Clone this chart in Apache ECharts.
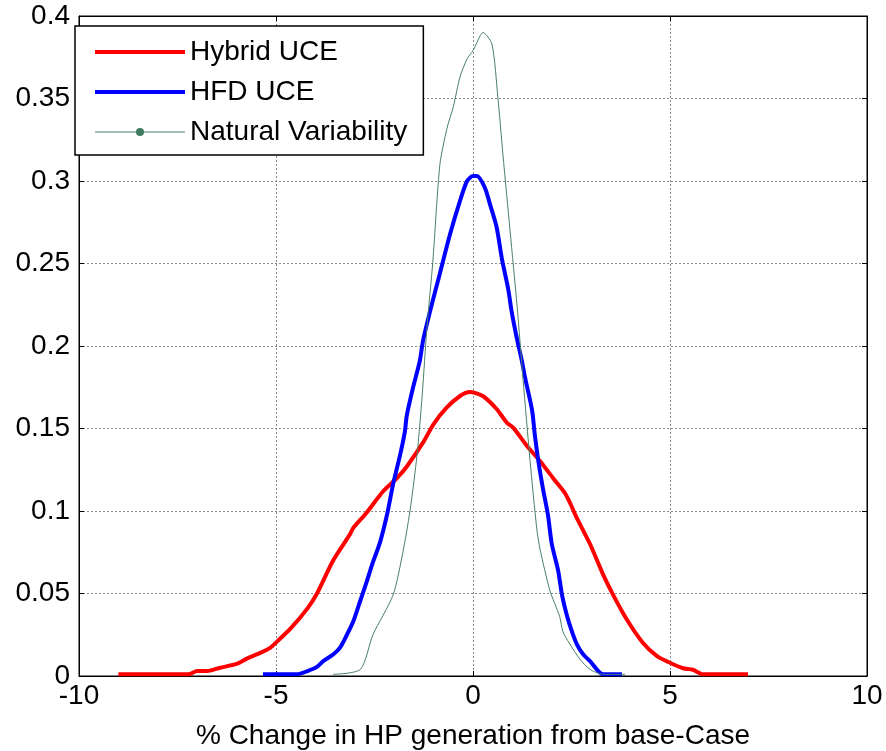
<!DOCTYPE html>
<html>
<head>
<meta charset="utf-8">
<script src="https://cdn.jsdelivr.net/npm/echarts@6/dist/echarts.min.js"></script>
<style>
html,body{margin:0;padding:0;background:#fff;}
#c{width:886px;height:751px;}
</style>
</head>
<body>
<div id="c"></div>
<script>
const xTicks = [-10, -5, 0, 5, 10];
const yTicks = [0, 0.05, 0.1, 0.15, 0.2, 0.25, 0.3, 0.35, 0.4];
const seriesNames = ['Hybrid UCE', 'HFD UCE', 'Natural Variability'];
const xTitle = '% Change in HP generation from base-Case';

const hybridX = [-9.0,-7.23,-7.0,-6.75,-6.42,-6.0,-5.74,-5.4,-5.15,-4.97,-4.64,-4.2,-3.96,-3.55,-3.12,-3.04,-2.7,-2.28,-1.93,-1.68,-1.27,-1.0,-0.67,-0.33,-0.08,0.25,0.6,0.86,1.02,1.37,1.7,2.03,2.33,2.46,2.63,2.97,3.3,3.55,3.9,4.31,4.67,5.0,5.33,5.58,5.84,6.98];
const hybridY = [0.001,0.001,0.003,0.003,0.005,0.0073,0.0105,0.014,0.017,0.021,0.0285,0.041,0.050,0.070,0.086,0.0897,0.099,0.112,0.120,0.127,0.1414,0.1527,0.1626,0.1697,0.1721,0.1697,0.1618,0.1535,0.1505,0.1394,0.1303,0.120,0.111,0.105,0.096,0.080,0.0616,0.0495,0.0344,0.0202,0.0121,0.008,0.0047,0.0038,0.001,0.001];

const hfdX = [-5.33,-4.47,-4.2,-3.96,-3.8,-3.55,-3.38,-3.2,-3.04,-2.87,-2.7,-2.54,-2.36,-2.18,-2.03,-1.85,-1.73,-1.68,-1.52,-1.35,-1.27,-1.09,-0.84,-0.58,-0.33,-0.15,0,0.1,0.3,0.43,0.6,0.74,0.89,0.98,1.11,1.24,1.32,1.5,1.57,1.66,1.78,1.9,2.0,2.16,2.26,2.38,2.51,2.64,2.8,2.97,3.3,3.78];
const hfdY = [0.001,0.001,0.003,0.0055,0.009,0.013,0.017,0.025,0.033,0.045,0.057,0.069,0.081,0.098,0.116,0.134,0.148,0.158,0.175,0.191,0.203,0.221,0.244,0.268,0.288,0.300,0.303,0.303,0.296,0.286,0.272,0.252,0.235,0.221,0.205,0.191,0.181,0.161,0.146,0.130,0.113,0.098,0.080,0.064,0.049,0.037,0.027,0.019,0.013,0.009,0.001,0.001];

const natX = [-3.55,-2.86,-2.54,-2.03,-1.78,-1.6,-1.42,-1.29,-1.17,-1.02,-0.84,-0.66,-0.5,-0.33,-0.15,0,0.18,0.25,0.48,0.63,0.76,0.94,1.12,1.27,1.45,1.62,1.7,1.95,2.2,2.28,2.44,2.72,2.97,3.3,3.86];
const natY = [0.001,0.004,0.025,0.049,0.075,0.1,0.134,0.17,0.211,0.251,0.31,0.332,0.345,0.363,0.374,0.379,0.388,0.390,0.383,0.351,0.316,0.27,0.224,0.18,0.13,0.089,0.077,0.052,0.036,0.027,0.02,0.01,0.004,0.001,0.001];

const pairs = (xs, ys) => xs.map((x, i) => [x, ys[i]]);

const FONT = 'Liberation Sans, Arial, sans-serif';
const FS = 28;
const chart = echarts.init(document.getElementById('c'), null, {renderer: 'canvas'});

const gridStyle = {show: true, lineStyle: {color: '#8a8a8a', type: [2, 2], width: 1}};
const option = {
  backgroundColor: '#fff',
  animation: false,
  grid: {left: 79, top: 16, right: 19, bottom: 75, show: true, borderColor: '#000', borderWidth: 1,
         containLabel: false, outerBoundsMode: 'none'},
  legend: {
    orient: 'vertical', left: 75, top: 26,
    backgroundColor: '#fff', borderColor: '#000', borderWidth: 1.5, borderRadius: 0,
    padding: [11, 16, 8, 18],
    itemWidth: 90, itemHeight: 10, itemGap: 10,
    textStyle: {fontFamily: FONT, fontSize: FS, color: '#000', lineHeight: 30},
    data: [
      {name: seriesNames[0], itemStyle: {opacity: 0}, lineStyle: {width: 4}},
      {name: seriesNames[1], itemStyle: {opacity: 0}, lineStyle: {width: 4}},
      {name: seriesNames[2], lineStyle: {width: 1}}
    ],
    selectedMode: false
  },
  xAxis: [{
    type: 'value', min: xTicks[0], max: xTicks[xTicks.length - 1], interval: 5,
    name: xTitle, nameLocation: 'middle', nameGap: 46,
    nameTextStyle: {fontFamily: FONT, fontSize: FS, color: '#000'},
    axisLine: {show: true, onZero: false, lineStyle: {color: '#000', width: 1}},
    axisTick: {show: true, inside: true, length: 5, lineStyle: {color: '#000'}},
    axisLabel: {fontFamily: FONT, fontSize: FS, color: '#000', margin: 6},
    splitLine: gridStyle
  }, {
    type: 'value', position: 'top', min: xTicks[0], max: xTicks[xTicks.length - 1], interval: 5,
    axisLine: {show: true, onZero: false, lineStyle: {color: '#000'}},
    axisTick: {show: true, inside: true, length: 5, lineStyle: {color: '#000'}},
    axisLabel: {show: false}, splitLine: {show: false}
  }],
  yAxis: [{
    type: 'value', min: yTicks[0], max: yTicks[yTicks.length - 1], interval: 0.05,
    axisLine: {show: true, onZero: false, lineStyle: {color: '#000', width: 1}},
    axisTick: {show: true, inside: true, length: 5, lineStyle: {color: '#000'}},
    axisLabel: {fontFamily: FONT, fontSize: FS, color: '#000', margin: 9},
    splitLine: gridStyle
  }, {
    type: 'value', position: 'right', min: yTicks[0], max: yTicks[yTicks.length - 1], interval: 0.05,
    axisLine: {show: true, onZero: false, lineStyle: {color: '#000'}},
    axisTick: {show: true, inside: true, length: 5, lineStyle: {color: '#000'}},
    axisLabel: {show: false}, splitLine: {show: false}
  }],
  series: [{
    name: seriesNames[0], type: 'line', data: pairs(hybridX, hybridY),
    symbol: 'none', smooth: 0.25, lineStyle: {color: '#ff0000', width: 4}, itemStyle: {color: '#ff0000'}, z: 3
  }, {
    name: seriesNames[1], type: 'line', data: pairs(hfdX, hfdY),
    symbol: 'none', smooth: 0.25, lineStyle: {color: '#0000ff', width: 4}, itemStyle: {color: '#0000ff'}, z: 4
  }, {
    name: seriesNames[2], type: 'line', data: pairs(natX, natY),
    symbol: 'circle', symbolSize: 7, showSymbol: false, smooth: 0.25,
    lineStyle: {color: '#4a7f66', width: 1}, itemStyle: {color: '#3f7a5c'}, z: 5
  }]
};
chart.setOption(option);
</script>
</body>
</html>
